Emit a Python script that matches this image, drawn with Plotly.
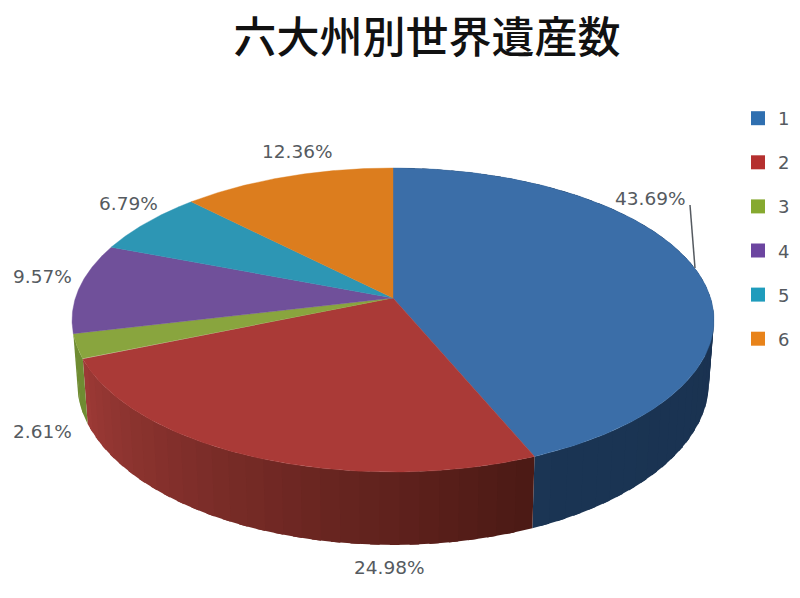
import numpy as np
import plotly.graph_objects as go

# values
categories = ["1", "2", "3", "4", "5", "6"]
shares = [43.69, 24.98, 2.61, 9.57, 6.79, 12.36]
title_text = "六大州別世界遺産数"

top_colors = ["#3b6ea8", "#aa3a37", "#89a53e", "#70509a", "#2d96b4", "#dc7d1e"]
legend_colors = ["#2f6fb0", "#b5302f", "#86a92f", "#6c45a0", "#1f9cbc", "#e8831a"]
# side colours at the start and end of each front slice (clockwise)
side_from = ["#182e4c", "#4c1a15", "#6f8c32"]
side_to = ["#1b3554", "#9c3a36", "#6f8c32"]

# label spots, pixels
label_pos = [(650, 198), (389, 567), (42, 431), (42, 276), (128, 203), (297, 151)]

CX = 393
K = 0.1447
# the page keeps its 8px body margin, so the figure starts there
PAGE_W, PAGE_H, OFF = 800, 598, 8


def rim(deg):
    # tilted circle, with perspective so the apex sits above the ellipse centre
    a = np.radians(deg)
    u, v = np.sin(a), np.cos(a)
    d = 1 + K * v
    return CX + 317.6 * u / d, (298 - 105.7 * v) / d


def low_rim(deg):
    x, y = rim(deg)
    return CX + (x - CX) * 316 / 321, 382 + (y - 320) * 163 / 152


def mix(c1, c2, t):
    a = [int(c1[i:i + 2], 16) for i in (1, 3, 5)]
    b = [int(c2[i:i + 2], 16) for i in (1, 3, 5)]
    return "rgb(%d,%d,%d)" % tuple(a[i] + (b[i] - a[i]) * t for i in range(3))


fig = go.Figure()

edges = np.concatenate([[0], np.cumsum(shares)]) * 3.6

# sides first, cut into strips for the shading. only the front slices show
for i in range(len(side_from)):
    n = max(2, int((edges[i + 1] - edges[i]) / 3))
    steps = np.linspace(edges[i], edges[i + 1], n + 1)
    for j in range(n):
        end = min(steps[j + 1] + 1.5, edges[i + 1])
        arc = np.linspace(steps[j], end, 5)
        xt, yt = rim(arc)
        xb, yb = low_rim(arc[::-1])
        col = mix(side_from[i], side_to[i], j / max(n - 1, 1))
        fig.add_trace(go.Scatter(
            x=np.concatenate([xt, xb]), y=np.concatenate([yt, yb]),
            mode="lines", fill="toself", fillcolor=col,
            line=dict(color=col, width=0),
            showlegend=False, hoverinfo="skip",
        ))

# top faces
for i in range(len(shares)):
    arc = np.linspace(edges[i], edges[i + 1], 120)
    xt, yt = rim(arc)
    fig.add_trace(go.Scatter(
        x=np.concatenate([[CX], xt, [CX]]), y=np.concatenate([[298], yt, [298]]),
        mode="lines", fill="toself", fillcolor=top_colors[i],
        line=dict(color=top_colors[i], width=0.4),
        showlegend=False, hoverinfo="skip",
    ))

# legend entries
for i in range(len(categories)):
    fig.add_trace(go.Scatter(
        x=[None], y=[None], mode="markers", name=categories[i],
        legendgroup=categories[i],
        marker=dict(symbol="square", size=14, color=legend_colors[i]),
    ))

for i in range(len(shares)):
    fig.add_annotation(
        x=label_pos[i][0], y=label_pos[i][1], text="%.2f%%" % shares[i],
        showarrow=False, font=dict(family="DejaVu Sans", size=18.5, color="#555a60"),
    )

fig.add_shape(type="line", x0=690, y0=205, x1=695, y1=268,
              line=dict(color="#555a60", width=1.5))

fig.update_layout(
    width=PAGE_W - OFF, height=PAGE_H - OFF,
    margin=dict(l=0, r=0, t=0, b=0),
    paper_bgcolor="white", plot_bgcolor="white",
    title=dict(
        text=title_text, x=(427 - OFF) / (PAGE_W - OFF), xanchor="center",
        y=1 - (38 - OFF) / (PAGE_H - OFF), yanchor="middle",
        font=dict(family="Noto Sans CJK JP", size=43, color="#111111", weight=500),
    ),
    xaxis=dict(range=[OFF, PAGE_W], visible=False, fixedrange=True),
    yaxis=dict(range=[PAGE_H, OFF], visible=False, fixedrange=True),
    legend=dict(
        x=(738 - OFF) / (PAGE_W - OFF), y=1 - (100 - OFF) / (PAGE_H - OFF),
        xanchor="left", yanchor="top",
        tracegroupgap=17.7, itemwidth=30,
        font=dict(family="DejaVu Sans", size=18, color="#555a60"),
        bgcolor="rgba(0,0,0,0)",
    ),
)

fig.write_html("out.html")
